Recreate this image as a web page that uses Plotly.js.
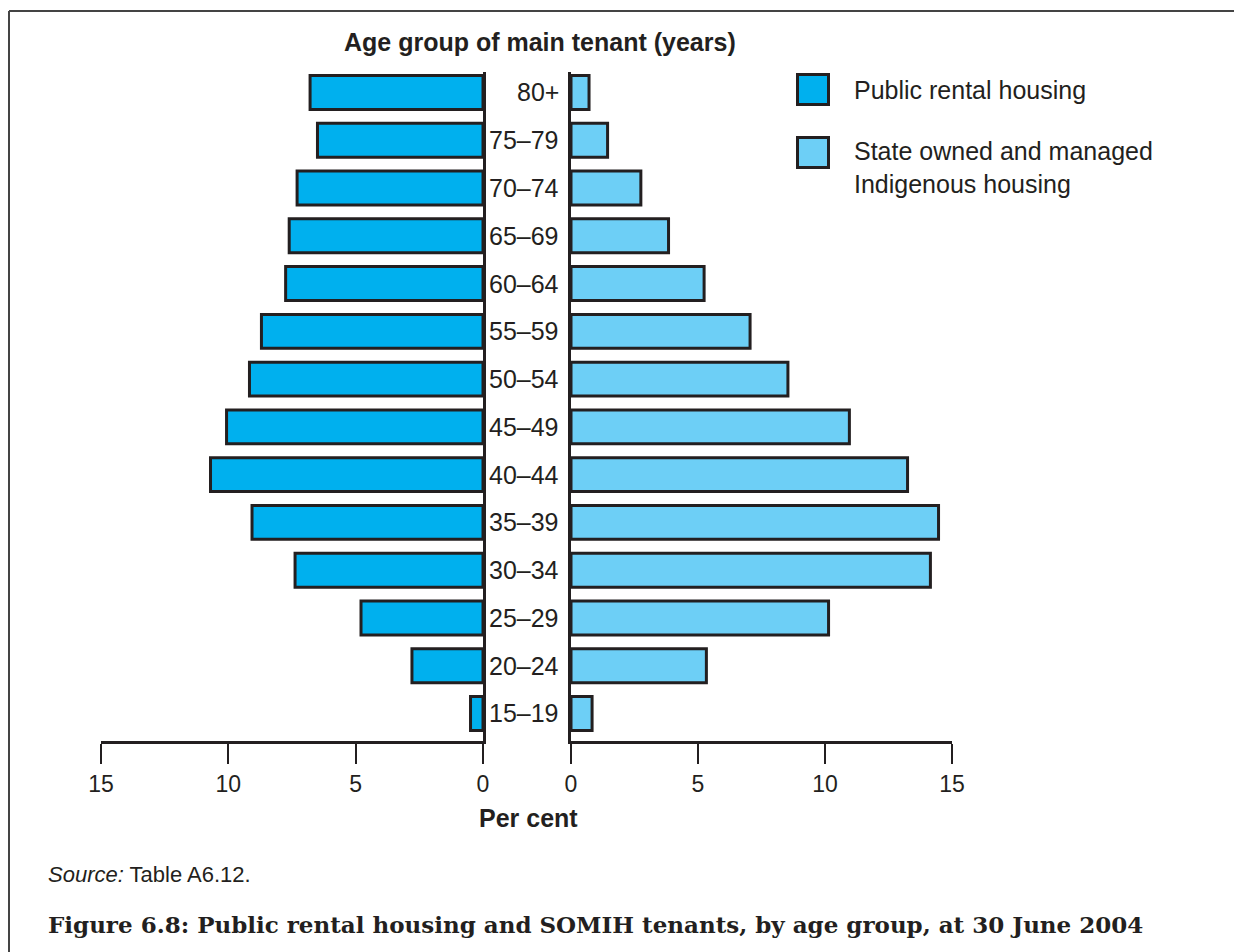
<!DOCTYPE html>
<html>
<head>
<meta charset="utf-8">
<script src="https://cdn.plot.ly/plotly-3.0.1.min.js"></script>
<style>html,body{margin:0;padding:0;background:#fff;}#chart{width:1234px;height:952px;}</style>
</head>
<body>
<div id="chart"></div>
<script>
// Data (bottom to top)
const ageGroups = ['15–19','20–24','25–29','30–34','35–39','40–44','45–49','50–54','55–59','60–64','65–69','70–74','75–79','80+'];
const publicRental = [0.49, 2.79, 4.79, 7.38, 9.07, 10.70, 10.07, 9.17, 8.70, 7.75, 7.61, 7.30, 6.50, 6.79];
const somih = [0.83, 5.33, 10.14, 14.15, 14.47, 13.25, 10.96, 8.54, 7.05, 5.24, 3.84, 2.75, 1.44, 0.71];
const seriesNames = ['Public rental housing', 'State owned and managed<br>Indigenous housing'];
const seriesColors = ['#00B0EE', '#6DCFF6'];
const tickValues = [0, 5, 10, 15];

const W = 1234, H = 952;
const px = v => v / W, py = v => 1 - v / H;
const ink = '#231F20';
const font = 'Liberation Sans, Arial, sans-serif';

const barCommon = {
  type: 'bar', orientation: 'h', width: 0.71,
  hoverinfo: 'x+y', showlegend: false
};

const traces = [
  Object.assign({}, barCommon, {
    x: publicRental, y: ageGroups, xaxis: 'x', yaxis: 'y', name: seriesNames[0],
    marker: {color: seriesColors[0], line: {color: ink, width: 3}}
  }),
  Object.assign({}, barCommon, {
    x: somih, y: ageGroups, xaxis: 'x2', yaxis: 'y2', name: seriesNames[1],
    marker: {color: seriesColors[1], line: {color: ink, width: 3}}
  })
];

const yRange = [-0.576, 13.429];
const yDomain = [py(741), py(72)];
const xAxisCommon = {
  tickvals: tickValues, ticktext: tickValues.map(String),
  ticks: 'outside', ticklen: 20, tickwidth: 2, tickcolor: ink,
  showline: true, linewidth: 3, linecolor: ink,
  showgrid: false, zeroline: false, fixedrange: true,
  tickfont: {family: font, size: 23, color: ink}
};
const yAxisCommon = {
  type: 'category', categoryorder: 'array', categoryarray: ageGroups,
  range: yRange, domain: yDomain,
  showline: true, linewidth: 3, linecolor: ink,
  showticklabels: false, ticks: '', showgrid: false, zeroline: false, fixedrange: true
};

const annotations = [];
// category labels in the middle gap
ageGroups.forEach(g => annotations.push({
  xref: 'paper', yref: 'y', x: px(561), y: g, text: g, showarrow: false,
  xanchor: 'right', yanchor: 'middle', font: {family: font, size: 25, color: ink}
}));
// titles
annotations.push({xref: 'paper', yref: 'paper', x: px(540), y: py(42), text: '<b>Age group of main tenant (years)</b>',
  showarrow: false, xanchor: 'center', yanchor: 'middle', font: {family: font, size: 25, color: ink}});
annotations.push({xref: 'paper', yref: 'paper', x: px(528), y: py(818), text: '<b>Per cent</b>',
  showarrow: false, xanchor: 'center', yanchor: 'middle', font: {family: font, size: 25, color: ink}});
// legend text
annotations.push({xref: 'paper', yref: 'paper', x: px(852), y: py(90), text: seriesNames[0],
  showarrow: false, xanchor: 'left', yanchor: 'middle', align: 'left', font: {family: font, size: 25, color: ink}});
annotations.push({xref: 'paper', yref: 'paper', x: px(852), y: py(167), text: seriesNames[1],
  showarrow: false, xanchor: 'left', yanchor: 'middle', align: 'left', font: {family: font, size: 25, color: ink}});
// source and caption
annotations.push({xref: 'paper', yref: 'paper', x: px(46), y: py(874), text: '<i>Source:</i> Table A6.12.',
  showarrow: false, xanchor: 'left', yanchor: 'middle', font: {family: font, size: 22, color: ink}});
annotations.push({xref: 'paper', yref: 'paper', x: px(46), y: py(924),
  text: '<b>Figure 6.8: Public rental housing and SOMIH tenants, by age group, at 30 June 2004</b>',
  showarrow: false, xanchor: 'left', yanchor: 'middle', font: {family: 'DejaVu Serif, serif', size: 23, color: ink}});

const shapes = [
  // frame
  {type: 'line', xref: 'paper', yref: 'paper', x0: px(9), x1: px(9), y0: py(11), y1: 0, line: {color: '#444', width: 2}},
  {type: 'line', xref: 'paper', yref: 'paper', x0: px(9), x1: 1, y0: py(11), y1: py(11), line: {color: '#444', width: 2}},
  // legend swatches
  {type: 'rect', xref: 'paper', yref: 'paper', x0: px(797.5), x1: px(828.5), y0: py(74.5), y1: py(104.5),
    fillcolor: seriesColors[0], line: {color: ink, width: 3}},
  {type: 'rect', xref: 'paper', yref: 'paper', x0: px(797.5), x1: px(828.5), y0: py(137.5), y1: py(167.5),
    fillcolor: seriesColors[1], line: {color: ink, width: 3}}
];

const layout = {
  width: W, height: H,
  margin: {l: 0, r: 0, t: 0, b: 0},
  paper_bgcolor: '#fff', plot_bgcolor: 'rgba(0,0,0,0)',
  showlegend: false,
  xaxis: Object.assign({}, xAxisCommon, {domain: [px(101), px(483)], range: [15, 0], anchor: 'y'}),
  yaxis: Object.assign({}, yAxisCommon, {anchor: 'x', side: 'right'}),
  xaxis2: Object.assign({}, xAxisCommon, {domain: [px(571), px(952)], range: [0, 15], anchor: 'y2'}),
  yaxis2: Object.assign({}, yAxisCommon, {anchor: 'x2', side: 'left'}),
  annotations: annotations,
  shapes: shapes
};

Plotly.newPlot('chart', traces, layout, {displayModeBar: false, staticPlot: true});
</script>
</body>
</html>
